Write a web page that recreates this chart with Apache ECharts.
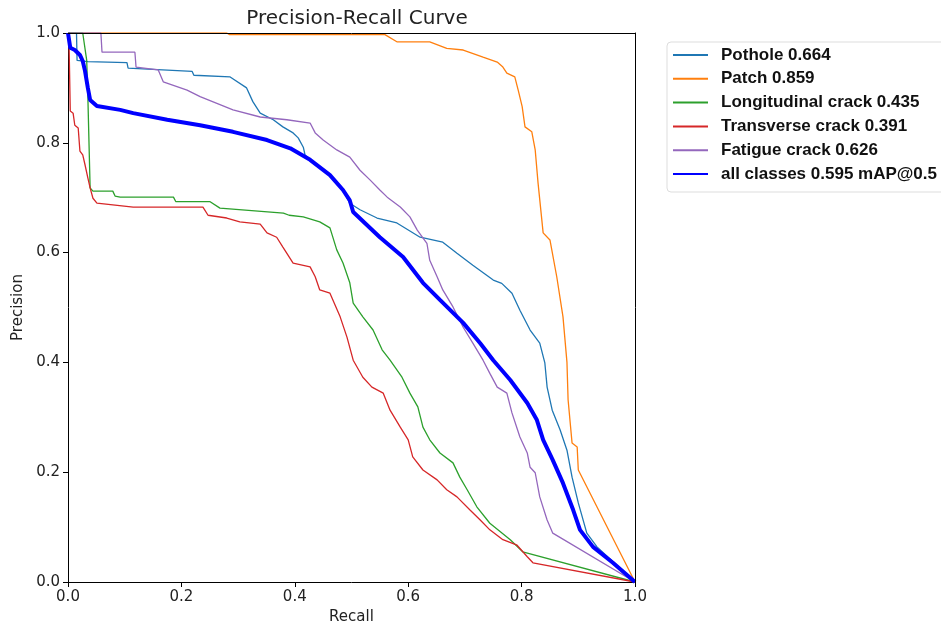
<!DOCTYPE html>
<html lang="en">

<head>
  <meta charset="UTF-8">
  <title>Precision-Recall Curve</title>
  <script src="https://cdn.jsdelivr.net/npm/echarts@6/dist/echarts.min.js"></script>
</head>

<body style="margin:0;background:#fff;">
  <div id="main" style="width: 941px;height:630px;"></div>

  <script>
    // recall / precision pairs
    let potholeR = [0, 0.015, 0.016, 0.035, 0.104, 0.106, 0.219, 0.222, 0.286, 0.315, 0.326, 0.339, 0.362, 0.379, 0.397, 0.406, 0.415, 0.418, 0.427, 0.462, 0.485, 0.497, 0.515, 0.545, 0.58, 0.621, 0.661, 0.686, 0.714, 0.75, 0.765, 0.783, 0.797, 0.815, 0.832, 0.841, 0.845, 0.854, 0.868, 0.88, 0.889, 0.9, 0.915, 0.933, 1.0];
    let potholeP = [1.0, 1.0, 0.95, 0.948, 0.946, 0.936, 0.93, 0.923, 0.92, 0.9, 0.875, 0.854, 0.842, 0.829, 0.818, 0.809, 0.792, 0.778, 0.769, 0.741, 0.714, 0.69, 0.678, 0.663, 0.654, 0.628, 0.619, 0.599, 0.577, 0.55, 0.544, 0.526, 0.495, 0.459, 0.435, 0.399, 0.355, 0.313, 0.277, 0.24, 0.191, 0.144, 0.089, 0.064, 0.0];

    let patchR = [0, 0.28, 0.285, 0.559, 0.58, 0.638, 0.668, 0.697, 0.732, 0.757, 0.767, 0.774, 0.788, 0.794, 0.801, 0.806, 0.818, 0.824, 0.829, 0.838, 0.85, 0.862, 0.873, 0.88, 0.882, 0.889, 0.898, 0.9, 1.0];
    let patchP = [1.0, 1.0, 0.997, 0.997, 0.984, 0.984, 0.972, 0.969, 0.956, 0.947, 0.938, 0.927, 0.92, 0.896, 0.866, 0.829, 0.82, 0.787, 0.727, 0.636, 0.623, 0.556, 0.483, 0.4, 0.332, 0.253, 0.246, 0.204, 0.0];

    let longR = [0, 0.026, 0.033, 0.035, 0.039, 0.044, 0.079, 0.083, 0.092, 0.186, 0.19, 0.25, 0.268, 0.38, 0.39, 0.415, 0.444, 0.462, 0.474, 0.485, 0.497, 0.503, 0.52, 0.538, 0.554, 0.568, 0.589, 0.603, 0.617, 0.626, 0.638, 0.656, 0.679, 0.691, 0.704, 0.721, 0.744, 0.78, 0.802, 1.0];
    let longP = [1.0, 1.0, 0.95, 0.885, 0.718, 0.712, 0.712, 0.703, 0.701, 0.701, 0.693, 0.693, 0.681, 0.672, 0.668, 0.665, 0.656, 0.645, 0.605, 0.581, 0.545, 0.508, 0.483, 0.459, 0.423, 0.404, 0.373, 0.344, 0.319, 0.282, 0.259, 0.235, 0.217, 0.191, 0.168, 0.137, 0.107, 0.077, 0.055, 0.0];

    let transR = [0, 0.002, 0.004, 0.009, 0.012, 0.018, 0.021, 0.026, 0.03, 0.035, 0.039, 0.044, 0.051, 0.115, 0.238, 0.247, 0.28, 0.303, 0.339, 0.351, 0.368, 0.379, 0.397, 0.427, 0.436, 0.444, 0.462, 0.48, 0.492, 0.503, 0.52, 0.536, 0.556, 0.568, 0.586, 0.6, 0.608, 0.626, 0.651, 0.668, 0.686, 0.709, 0.727, 0.744, 0.767, 0.792, 0.81, 0.82, 1.0];
    let transP = [1.0, 0.973, 0.858, 0.854, 0.832, 0.827, 0.785, 0.778, 0.76, 0.736, 0.718, 0.699, 0.69, 0.683, 0.683, 0.668, 0.663, 0.656, 0.652, 0.636, 0.628, 0.61, 0.581, 0.574, 0.556, 0.532, 0.526, 0.483, 0.446, 0.404, 0.373, 0.355, 0.344, 0.313, 0.282, 0.259, 0.228, 0.204, 0.186, 0.168, 0.155, 0.131, 0.113, 0.095, 0.077, 0.067, 0.046, 0.035, 0.0];

    let fatigueR = [0, 0.058, 0.06, 0.118, 0.12, 0.159, 0.168, 0.21, 0.233, 0.291, 0.339, 0.386, 0.427, 0.436, 0.45, 0.474, 0.497, 0.515, 0.533, 0.55, 0.563, 0.586, 0.603, 0.616, 0.633, 0.638, 0.651, 0.661, 0.679, 0.697, 0.714, 0.732, 0.744, 0.757, 0.774, 0.783, 0.797, 0.81, 0.815, 0.824, 0.832, 0.845, 0.855, 1.0];
    let fatigueP = [1.0, 1.0, 0.965, 0.965, 0.938, 0.933, 0.911, 0.896, 0.884, 0.86, 0.847, 0.842, 0.836, 0.818, 0.805, 0.787, 0.774, 0.75, 0.732, 0.714, 0.701, 0.683, 0.665, 0.641, 0.617, 0.586, 0.556, 0.532, 0.501, 0.464, 0.435, 0.404, 0.38, 0.355, 0.344, 0.308, 0.264, 0.235, 0.209, 0.199, 0.155, 0.113, 0.089, 0.0];

    let allR = [0, 0.004, 0.012, 0.021, 0.026, 0.03, 0.035, 0.039, 0.051, 0.092, 0.115, 0.175, 0.233, 0.291, 0.351, 0.392, 0.427, 0.462, 0.485, 0.497, 0.503, 0.55, 0.591, 0.626, 0.656, 0.697, 0.727, 0.75, 0.78, 0.81, 0.827, 0.838, 0.855, 0.873, 0.891, 0.903, 0.926, 0.961, 1.0];
    let allP = [1.0, 0.973, 0.969, 0.96, 0.949, 0.931, 0.9, 0.878, 0.867, 0.86, 0.854, 0.842, 0.832, 0.82, 0.805, 0.79, 0.769, 0.741, 0.714, 0.695, 0.674, 0.628, 0.592, 0.545, 0.514, 0.472, 0.435, 0.404, 0.368, 0.326, 0.295, 0.259, 0.222, 0.18, 0.131, 0.095, 0.064, 0.035, 0.0];

    let names = ['Pothole 0.664', 'Patch 0.859', 'Longitudinal crack 0.435', 'Transverse crack 0.391', 'Fatigue crack 0.626', 'all classes 0.595 mAP@0.5'];
    let colors = ['#1f77b4', '#ff7f0e', '#2ca02c', '#d62728', '#9467bd', '#0000ff'];
    let recalls = [potholeR, patchR, longR, transR, fatigueR, allR];
    let precisions = [potholeP, patchP, longP, transP, fatigueP, allP];

    function zip(xs, ys) {
      return xs.map(function (x, i) { return [x, ys[i]]; });
    }

    var myChart = echarts.init(document.getElementById('main'));

    var series = names.map(function (name, i) {
      return {
        name: name,
        type: 'line',
        symbol: 'none',
        showSymbol: false,
        z: i == 5 ? 3 : 2,
        lineStyle: { color: colors[i], width: i == 5 ? 4 : 1.3 },
        itemStyle: { color: colors[i] },
        data: zip(recalls[i], precisions[i])
      };
    });

    var tickFont = { fontFamily: 'DejaVu Sans', fontSize: 15, color: '#222' };

    option = {
      animation: false,
      backgroundColor: '#fff',
      title: {
        text: 'Precision-Recall Curve',
        left: 352,
        textAlign: 'center',
        top: 4,
        textStyle: { fontFamily: 'DejaVu Sans', fontSize: 20, fontWeight: 'normal', color: '#222' }
      },
      legend: {
        orient: 'vertical',
        left: 667,
        top: 42,
        padding: [4.5, 60, 9.5, 5],
        itemWidth: 35,
        itemHeight: 14,
        itemGap: 6.8,
        borderColor: '#ddd',
        borderWidth: 1,
        borderRadius: 4,
        backgroundColor: '#fff',
        itemStyle: { opacity: 0 },
        textStyle: { fontFamily: 'Liberation Sans', fontSize: 17, lineHeight: 17, fontWeight: 'bold', color: '#111', padding: [0, 0, 0, 8] },
        data: names
      },
      grid: { left: 68, right: 306, top: 33, bottom: 48, outerBoundsMode: 'none' },
      xAxis: [{
        type: 'value',
        min: 0,
        max: 1,
        interval: 0.2,
        name: 'Recall',
        nameLocation: 'middle',
        nameGap: 28,
        nameTextStyle: tickFont,
        splitLine: { show: false },
        axisLine: { lineStyle: { color: '#000', width: 1 } },
        axisTick: { length: 5, lineStyle: { color: '#000' } },
        axisLabel: Object.assign({ margin: 8, formatter: function (v) { return v.toFixed(1); } }, tickFont)
      }, {
        type: 'value', position: 'top', min: 0, max: 1, z: 5,
        axisLine: { show: true, onZero: false, lineStyle: { color: '#000', width: 1 } },
        axisTick: { show: false }, axisLabel: { show: false }, splitLine: { show: false }
      }],
      yAxis: [{
        type: 'value',
        min: 0,
        max: 1,
        interval: 0.2,
        name: 'Precision',
        nameLocation: 'middle',
        nameGap: 38,
        nameTextStyle: tickFont,
        splitLine: { show: false },
        axisLine: { show: true, lineStyle: { color: '#000', width: 1 } },
        axisTick: { show: true, length: 5, lineStyle: { color: '#000' } },
        axisLabel: Object.assign({ margin: 8, formatter: function (v) { return v.toFixed(1); } }, tickFont)
      }, {
        type: 'value', position: 'right', min: 0, max: 1, z: 5,
        axisLine: { show: true, onZero: false, lineStyle: { color: '#000', width: 1 } },
        axisTick: { show: false }, axisLabel: { show: false }, splitLine: { show: false }
      }],
      series: series
    };

    myChart.setOption(option);
  </script>
</body>

</html>
